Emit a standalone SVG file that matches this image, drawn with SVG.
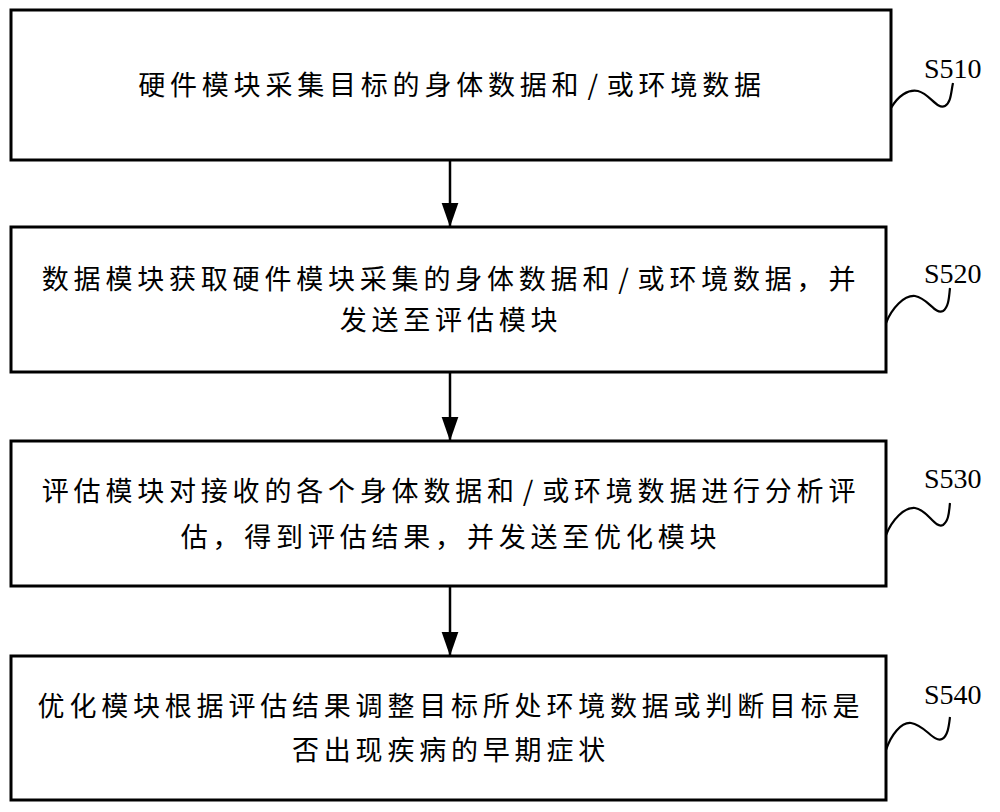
<svg xmlns="http://www.w3.org/2000/svg" width="1000" height="812" viewBox="0 0 1000 812">
<defs>
<style>
.box{fill:#fff;stroke:#000;stroke-width:3}
.t{font-family:"Noto Sans CJK SC","Noto Sans CJK JP",sans-serif;font-size:27px;letter-spacing:4.8px;fill:#000;text-anchor:middle}
.lbl{font-family:"Liberation Serif","Times New Roman",serif;font-size:28px;fill:#000}
.sq{fill:none;stroke:#000;stroke-width:2.2}
.conn{stroke:#000;stroke-width:2.5;fill:none}
</style>
<marker id="ah" markerUnits="userSpaceOnUse" markerWidth="24" markerHeight="18" viewBox="0 0 23 16" refX="23" refY="8" orient="auto">
<path d="M0,0 L23,8 L0,16 Z" fill="#000"/>
</marker>
</defs>
<rect width="1000" height="812" fill="#fff"/>
<g id="S510">
<rect class="box" x="11" y="10" width="880" height="150"/>
<text class="t" x="452" y="95">硬件模块采集目标的身体数据和<tspan dx="4">/</tspan><tspan dx="4">或环境数据</tspan></text>
<path class="sq" d="M891,108 C898,96 908,89 918,91 C930,94 937,110 945,106 C951,103 951,92 953,83"/>
<text class="lbl" x="924" y="78">S510</text>
</g>
<g id="S520">
<rect class="box" x="11" y="227" width="875" height="145"/>
<text class="t" x="451" y="289">数据模块获取硬件模块采集的身体数据和<tspan dx="4">/</tspan><tspan dx="4">或环境数据，并</tspan></text>
<text class="t" x="451" y="330">发送至评估模块</text>
<path class="sq" d="M886,323 C892,308 904,295 915,296 C928,298 935,315 943,311 C949,307 949,296 950,288"/>
<text class="lbl" x="924" y="283">S520</text>
</g>
<g id="S530">
<rect class="box" x="11" y="441" width="875" height="145"/>
<text class="t" x="451" y="501">评估模块对接收的各个身体数据和<tspan dx="4">/</tspan><tspan dx="4">或环境数据进行分析评</tspan></text>
<text class="t" x="451" y="547">估，得到评估结果，并发送至优化模块</text>
<path class="sq" d="M886,535 C892,520 904,507 915,508 C928,510 935,529 943,525 C949,521 949,511 950,503"/>
<text class="lbl" x="924" y="488">S530</text>
</g>
<g id="S540">
<rect class="box" x="11" y="656" width="875" height="144"/>
<text class="t" x="451" y="716">优化模块根据评估结果调整目标所处环境数据或判断目标是</text>
<text class="t" x="451" y="760">否出现疾病的早期症状</text>
<path class="sq" d="M886,750 C891,735 901,722 911,723 C925,725 934,743 942,739 C948,736 949,725 950,717"/>
<text class="lbl" x="924" y="704">S540</text>
</g>
<g id="connectors">
<line class="conn" x1="450" y1="161" x2="450" y2="227" marker-end="url(#ah)"/>
<line class="conn" x1="450" y1="373" x2="450" y2="441" marker-end="url(#ah)"/>
<line class="conn" x1="450" y1="587" x2="450" y2="656" marker-end="url(#ah)"/>
</g>
</svg>
